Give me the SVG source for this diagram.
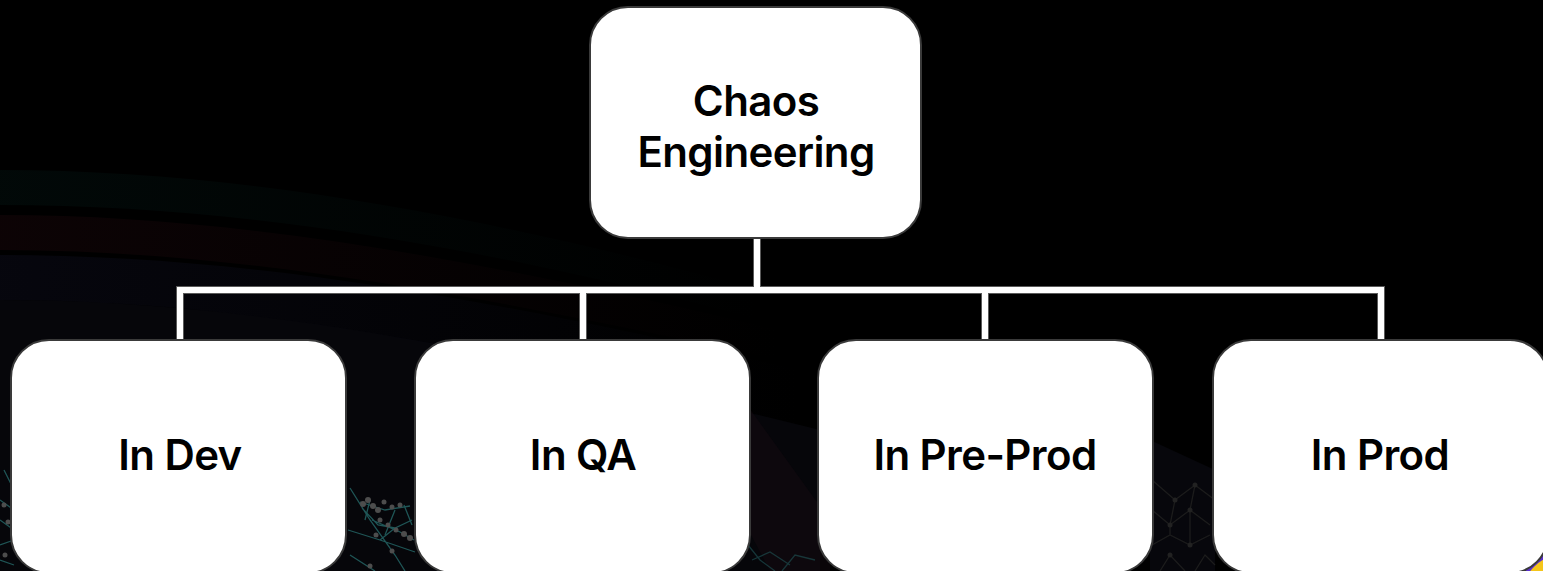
<svg xmlns="http://www.w3.org/2000/svg" width="1543" height="571" viewBox="0 0 1543 571">
  <style>
    .box { fill: #ffffff; stroke: #3a3a3a; stroke-width: 2; }
    .label { font-family: Inter, "Liberation Sans", sans-serif; font-weight: 600; font-size: 42px; letter-spacing: -0.6px; fill: #000000; text-anchor: middle; }
    .wire-edge { fill: none; stroke: #5a5a5a; stroke-width: 8; stroke-linejoin: miter; }
    .wire { fill: none; stroke: #ffffff; stroke-width: 6; stroke-linejoin: miter; }
    .mesh { fill: none; stroke: #1f5556; stroke-width: 1.3; }
    .mesh-dark { fill: none; stroke: #1c1c1c; stroke-width: 1.3; }
    .dot { fill: #4d4d4d; }
    .dot-dark { fill: #222222; }
  </style>
  <defs>
    <linearGradient id="bandTeal" x1="0" y1="0" x2="1" y2="0">
      <stop offset="0" stop-color="#06201d" stop-opacity="0.9"/>
      <stop offset="1" stop-color="#06201d" stop-opacity="0"/>
    </linearGradient>
    <linearGradient id="bandRed" x1="0" y1="0" x2="1" y2="0">
      <stop offset="0" stop-color="#1e080c" stop-opacity="0.9"/>
      <stop offset="1" stop-color="#1e080c" stop-opacity="0"/>
    </linearGradient>
    <linearGradient id="bandBlue" x1="0" y1="0" x2="1" y2="0">
      <stop offset="0" stop-color="#0e0e1e" stop-opacity="0.9"/>
      <stop offset="1" stop-color="#0e0e1e" stop-opacity="0"/>
    </linearGradient>
  </defs>

  <!-- backdrop -->
  <g id="background">
    <rect x="0" y="0" width="1543" height="571" fill="#000000"/>
    <path d="M0,170 C250,170 500,220 760,290 L760,320 C500,250 250,205 0,205 Z" fill="url(#bandTeal)" opacity="0.3"/>
    <path d="M0,215 C250,215 500,265 780,330 L780,360 C500,300 250,250 0,250 Z" fill="url(#bandRed)" opacity="0.45"/>
    <path d="M0,255 C250,255 500,300 800,370 L800,430 C500,350 250,300 0,300 Z" fill="url(#bandBlue)" opacity="0.5"/>
    <path d="M0,300 C250,300 500,350 820,430 L820,571 L0,571 Z" fill="#0a0a10" opacity="0.6"/>
    <path d="M700,340 L830,520 L830,571 L770,571 L680,400 Z" fill="#140a10" opacity="0.5"/>
    <path d="M1150,440 L1215,470 L1215,571 L1150,571 Z" fill="#0b0b14" opacity="0.6"/>

    <!-- network mesh near the bottom -->
    <g class="mesh">
      <path d="M0,500 L14,510 M0,520 L14,530 M0,545 L14,540 M4,470 L14,490 M0,560 L14,565"/>
      <path d="M350,488 L370,520 L395,555 L405,571 M348,530 L380,540 L415,552 M350,555 L375,571 M360,502 L385,510 L410,506 M362,508 L378,525 L395,528 L412,520 M372,520 L400,532 L414,540 M380,540 L395,528"/>
      <path d="M370,500 L365,520 M395,510 L385,535 M404,505 L412,525"/>
    </g>
    <g class="mesh" opacity="0.6">
      <path d="M748,545 L760,560 L775,571 M752,560 L770,552 L790,565 M782,571 L795,555 L815,560"/>
    </g>
    <g class="mesh-dark">
      <path d="M1152,480 L1175,500 L1195,485 L1215,500 M1152,510 L1170,525 L1190,510 L1210,525 M1152,545 L1170,535 L1190,545 L1210,535 M1175,500 L1170,525 L1170,535 M1195,485 L1190,510 L1190,545 M1160,571 L1170,555 L1185,571 M1195,571 L1205,555 L1215,565"/>
    </g>
    <g class="dot">
      <circle cx="4" cy="505" r="2.5"/><circle cx="8" cy="522" r="2.5"/><circle cx="5" cy="555" r="2.5"/>
      <circle cx="363" cy="504" r="3"/><circle cx="368" cy="500" r="3"/><circle cx="373" cy="506" r="3"/>
      <circle cx="378" cy="510" r="3"/><circle cx="384" cy="502" r="2.5"/><circle cx="392" cy="507" r="2.5"/>
      <circle cx="400" cy="505" r="2.5"/><circle cx="380" cy="520" r="2.5"/><circle cx="388" cy="525" r="2.5"/>
      <circle cx="396" cy="530" r="2.5"/><circle cx="404" cy="534" r="3"/><circle cx="410" cy="538" r="3"/>
      <circle cx="376" cy="535" r="2.5"/><circle cx="392" cy="551" r="2.5"/><circle cx="370" cy="566" r="2.5"/>
    </g>
    <g class="dot-dark">
      <circle cx="1175" cy="500" r="2.5"/><circle cx="1195" cy="485" r="2.5"/><circle cx="1170" cy="525" r="2.5"/>
      <circle cx="1190" cy="510" r="2.5"/><circle cx="1190" cy="545" r="2.5"/><circle cx="1170" cy="555" r="2.5"/>
    </g>
    <!-- accent in the lower right corner -->
    <circle cx="1565" cy="598" r="46" fill="#f4c51a" stroke="#5b2fd0" stroke-width="4"/>
  </g>

  <!-- tree connectors -->
  <g id="connectors">
    <path class="wire-edge" d="M757,238 V290 M180,340 V290 H1381 V340 M583,290 V340 M985,290 V340"/>
    <path class="wire" d="M757,238 V290 M180,340 V290 H1381 V340 M583,290 V340 M985,290 V340"/>
  </g>

  <g id="node-chaos-engineering">
    <rect class="box" x="590" y="7" width="331" height="231" rx="38"/>
    <text class="label" x="756" y="116">Chaos</text>
    <text class="label" x="756" y="167">Engineering</text>
  </g>

  <g id="node-in-dev">
    <rect class="box" x="11" y="340" width="335" height="233" rx="38"/>
    <text class="label" x="180" y="470">In Dev</text>
  </g>

  <g id="node-in-qa">
    <rect class="box" x="415" y="340" width="335" height="233" rx="38"/>
    <text class="label" x="583" y="470">In QA</text>
  </g>

  <g id="node-in-pre-prod">
    <rect class="box" x="818" y="340" width="335" height="233" rx="38"/>
    <text class="label" x="985" y="470">In Pre-Prod</text>
  </g>

  <g id="node-in-prod">
    <rect class="box" x="1213" y="340" width="335" height="233" rx="38"/>
    <text class="label" x="1380" y="470">In Prod</text>
  </g>
</svg>
